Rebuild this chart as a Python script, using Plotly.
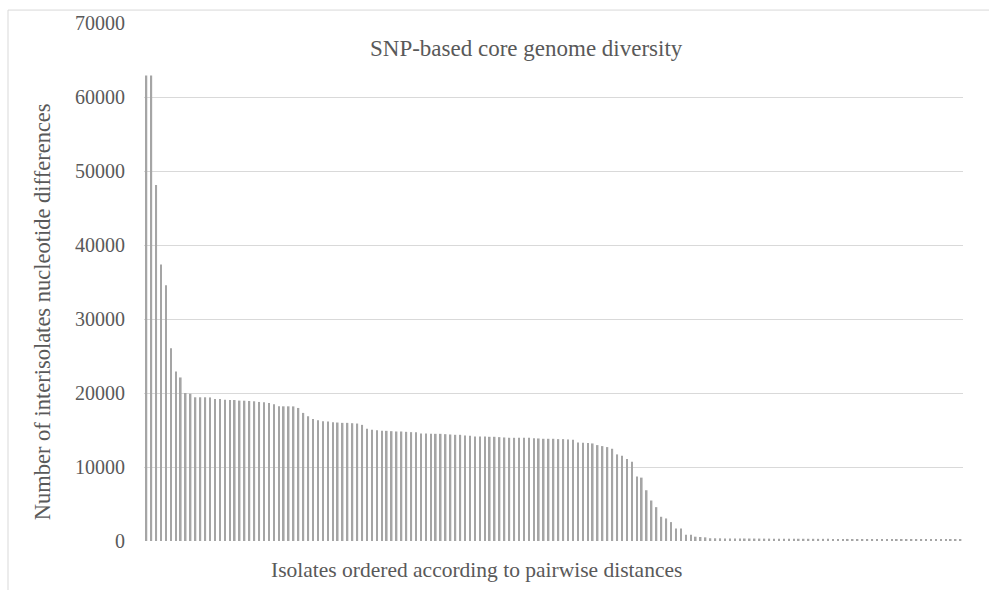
import plotly.graph_objects as go

# Pairwise SNP distances, ordered from largest to smallest
isolate_rank = list(range(1, 168))
snp_differences = [
    62900, 62900, 48100, 37350, 34570, 26050, 22900, 22100, 20000, 19900,
    19420, 19420, 19420, 19400, 19200, 19190, 19100, 19060, 19050, 18970,
    18960, 18920, 18880, 18790, 18740, 18650, 18480, 18210, 18200, 18200,
    18190, 17980, 17310, 16860, 16500, 16320, 16190, 16140,
    16054, 16009, 15964, 15964, 15919, 15874, 15695, 15157, 15022, 14978,
    14888, 14888, 14843, 14798, 14798, 14753, 14709, 14709, 14529, 14529,
    14484, 14484, 14484, 14439, 14395, 14350, 14350, 14260, 14215, 14126,
    14126, 14126, 14081, 14081, 14036, 13991, 13946, 13946, 13946, 13946,
    13946, 13901, 13857, 13812, 13812, 13812, 13767, 13767, 13722, 13677,
    13318, 13274, 13229, 13184, 12960, 12825, 12691, 12466, 11704, 11525,
    11076,
    10717, 8700, 8565, 6861, 5471, 4574, 3274, 3049, 2556, 1704,
    1704, 852, 852, 583, 538, 493, 370,
    365, 360, 352, 348, 344, 340, 336, 332, 330, 326,
    322, 320, 318, 314, 312, 310, 306, 304, 300, 298,
    296, 292, 290, 288, 285, 282, 280, 277, 275, 272,
    270, 268, 265, 262, 260, 258, 255, 252, 250, 248,
    245, 242, 240, 238, 235, 232, 230, 228, 225, 222, 220,
]
y_ticks = [0, 10000, 20000, 30000, 40000, 50000, 60000, 70000]

TITLE = "SNP-based core genome diversity"
X_TITLE = "Isolates ordered according to pairwise distances"
Y_TITLE = "Number of interisolates nucleotide differences"

W, H = 989, 590
L, R, T, B = 144, 26, 20, 49
PW, PH = W - L - R, H - T - B

def px(x):
    return (x - L) / PW

def py(y):
    return (H - B - y) / PH

TEXT = "#595959"
FONT = "Liberation Serif, Times New Roman, serif"

fig = go.Figure(
    go.Bar(
        x=isolate_rank,
        y=snp_differences,
        width=0.33,
        marker=dict(color="#a5a5a5", line=dict(width=0)),
        hoverinfo="x+y",
    )
)

fig.update_layout(
    width=W,
    height=H,
    margin=dict(l=L, r=R, t=T, b=B, pad=0),
    paper_bgcolor="white",
    plot_bgcolor="white",
    showlegend=False,
    font=dict(family=FONT, color=TEXT),
    xaxis=dict(
        range=[0.5, len(isolate_rank) + 0.5],
        showticklabels=False,
        showgrid=False,
        zeroline=False,
        showline=False,
        ticks="",
    ),
    yaxis=dict(
        range=[0, 70000],
        tickvals=y_ticks,
        ticktext=[str(v) for v in y_ticks],
        tickfont=dict(size=20, family=FONT, color=TEXT),
        showgrid=True,
        gridcolor="#d9d9d9",
        gridwidth=1,
        zeroline=False,
        showline=False,
        ticks="",
        ticklabelstandoff=18,
    ),
    shapes=[
        # chart area border
        dict(type="rect", xref="paper", yref="paper",
             x0=px(8), x1=px(1010), y0=py(7), y1=py(620),
             line=dict(color="#d9d9d9", width=1), fillcolor="rgba(0,0,0,0)",
             layer="below"),
    ],
    annotations=[
        dict(text=TITLE, xref="paper", yref="paper", x=px(526), y=py(46),
             xanchor="center", yanchor="middle", showarrow=False,
             font=dict(size=23, family=FONT, color=TEXT)),
        dict(text=X_TITLE, xref="paper", yref="paper", x=px(476), y=py(570),
             xanchor="center", yanchor="middle", showarrow=False,
             font=dict(size=21.5, family=FONT, color=TEXT)),
        dict(text=Y_TITLE, xref="paper", yref="paper", x=px(42), y=py(311),
             xanchor="center", yanchor="middle", showarrow=False, textangle=-90,
             font=dict(size=22.5, family=FONT, color=TEXT)),
    ],
)

fig.write_html("out.html")
